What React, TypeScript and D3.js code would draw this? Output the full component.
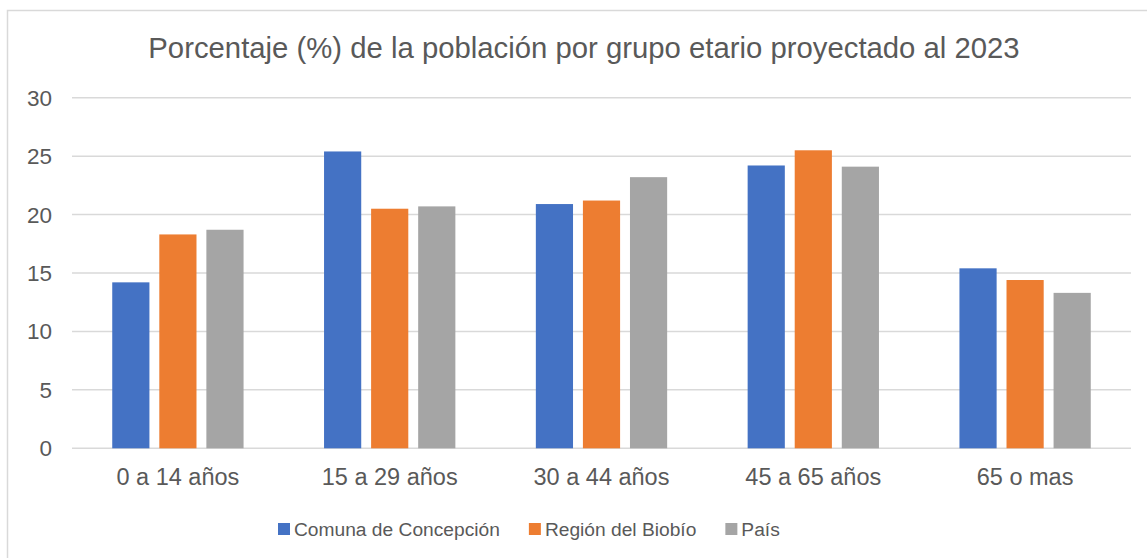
import * as d3 from 'd3';
import React, { useEffect, useRef } from 'react';

const categories = ['0 a 14 años', '15 a 29 años', '30 a 44 años', '45 a 65 años', '65 o mas'];
const seriesNames = ['Comuna de Concepción', 'Región del Biobío', 'País'];
const seriesColors = ['#4472C4', '#ED7D31', '#A5A5A5'];
const comuna = [14.2, 25.4, 20.9, 24.2, 15.4];
const region = [18.3, 20.5, 21.2, 25.5, 14.4];
const pais = [18.7, 20.7, 23.2, 24.1, 13.3];
const yTicks = [0, 5, 10, 15, 20, 25, 30];
const title = 'Porcentaje (%) de la población por grupo etario proyectado al 2023';

const App: React.FC = () => {
    const svgRef = useRef<SVGSVGElement>(null);

    useEffect(() => {
        if (!svgRef.current) return;
        const svg = d3.select(svgRef.current);
        svg.selectAll('*').remove();

        const width = 1147;
        const height = 558;
        const left = 72;
        const right = 1131;
        const top = 97.7;
        const bottom = 448.3;
        const textColor = '#595959';
        const font = '"Liberation Sans", Arial, sans-serif';

        svg.attr('width', width).attr('height', height);

        // chart frame (cut off on the right and bottom)
        svg.append('rect')
            .attr('x', 7.5)
            .attr('y', 10.5)
            .attr('width', 1200)
            .attr('height', 600)
            .attr('fill', '#fff')
            .attr('stroke', '#d9d9d9')
            .attr('stroke-width', 1.5);

        const x0 = d3.scaleBand<string>()
            .domain(categories)
            .range([left, right])
            .paddingInner(0.38)
            .paddingOuter(0.19);

        const x1 = d3.scaleBand<number>()
            .domain([0, 1, 2])
            .range([0, x0.bandwidth()])
            .paddingInner(0.21);

        const y = d3.scaleLinear().domain([0, 30]).range([bottom, top]);

        // gridlines
        svg.append('g')
            .selectAll('line')
            .data(yTicks)
            .join('line')
            .attr('x1', left)
            .attr('x2', right)
            .attr('y1', (d) => y(d))
            .attr('y2', (d) => y(d))
            .attr('stroke', '#d9d9d9')
            .attr('stroke-width', 1.5);

        // y tick labels
        svg.append('g')
            .selectAll('text')
            .data(yTicks)
            .join('text')
            .attr('x', 52)
            .attr('y', (d) => y(d) + 8)
            .attr('text-anchor', 'end')
            .attr('font-family', font)
            .attr('font-size', 22.5)
            .attr('fill', textColor)
            .text((d) => d);

        // bars
        const series = [comuna, region, pais];
        series.forEach((values, si) => {
            svg.append('g')
                .selectAll('rect')
                .data(values)
                .join('rect')
                .attr('x', (_, i) => (x0(categories[i]) as number) + (x1(si) as number))
                .attr('y', (d) => y(d))
                .attr('width', x1.bandwidth())
                .attr('height', (d) => bottom - y(d))
                .attr('fill', seriesColors[si]);
        });

        // category labels
        svg.append('g')
            .selectAll('text')
            .data(categories)
            .join('text')
            .attr('x', (d) => (x0(d) as number) + x0.bandwidth() / 2)
            .attr('y', 485)
            .attr('text-anchor', 'middle')
            .attr('font-family', font)
            .attr('font-size', 23.5)
            .attr('fill', textColor)
            .text((d) => d);

        // title
        svg.append('text')
            .attr('x', 584)
            .attr('y', 58)
            .attr('text-anchor', 'middle')
            .attr('font-family', font)
            .attr('font-size', 29.3)
            .attr('fill', textColor)
            .text(title);

        // legend
        let lx = 278;
        seriesNames.forEach((name, i) => {
            svg.append('rect')
                .attr('x', lx)
                .attr('y', 523)
                .attr('width', 12)
                .attr('height', 12)
                .attr('fill', seriesColors[i]);
            const t = svg.append('text')
                .attr('x', lx + 16)
                .attr('y', 536)
                .attr('font-family', font)
                .attr('font-size', 19.2)
                .attr('fill', textColor)
                .text(name);
            const w = (t.node() as SVGTextElement).getComputedTextLength();
            lx += 16 + w + 29;
        });
    }, []);

    return (
        <div style={{ position: 'absolute', left: 0, top: 0 }}>
            <svg ref={svgRef} style={{ display: 'block' }}></svg>
        </div>
    );
};

export default App;
